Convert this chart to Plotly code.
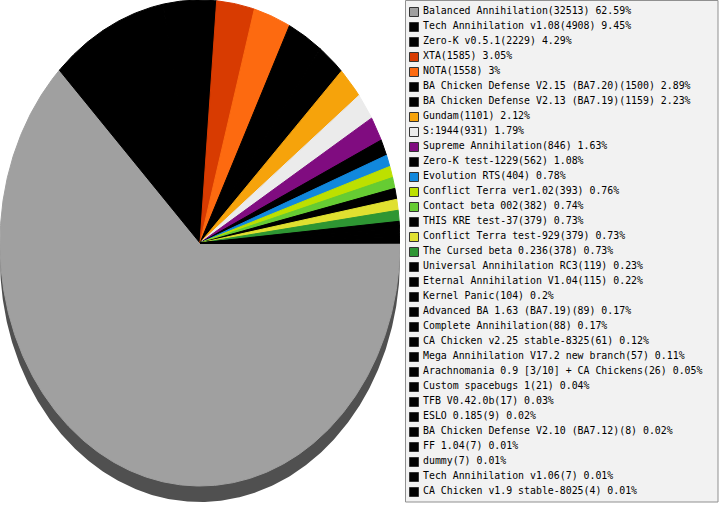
import numpy as np
import plotly.graph_objects as go

# mod names, game counts and slice colours, in legend order
MODS = [
    "Balanced Annihilation", "Tech Annihilation v1.08", "Zero-K v0.5.1", "XTA", "NOTA",
    "BA Chicken Defense V2.15 (BA7.20)", "BA Chicken Defense V2.13 (BA7.19)", "Gundam",
    "S:1944", "Supreme Annihilation", "Zero-K test-1229", "Evolution RTS",
    "Conflict Terra ver1.02", "Contact beta 002", "THIS KRE test-37", "Conflict Terra test-929",
    "The Cursed beta 0.236", "Universal Annihilation RC3", "Eternal Annihilation V1.04",
    "Kernel Panic", "Advanced BA 1.63 (BA7.19)", "Complete Annihilation",
    "CA Chicken v2.25 stable-8325", "Mega Annihilation V17.2 new branch",
    "Arachnomania 0.9 [3/10] + CA Chickens", "Custom spacebugs 1", "TFB V0.42.0b",
    "ESLO 0.185", "BA Chicken Defense V2.10 (BA7.12)", "FF 1.04", "dummy",
    "Tech Annihilation v1.06", "CA Chicken v1.9 stable-8025",
]
GAMES = [
    32513, 4908, 2229, 1585, 1558, 1500, 1159, 1101, 931, 846, 562, 404, 393, 382, 379,
    379, 378, 119, 115, 104, 89, 88, 61, 57, 26, 21, 17, 9, 8, 7, 7, 7, 4,
]
COLORS = [
    "#a0a0a0", "#000000", "#000000", "#d83b01", "#fd6a10", "#000000", "#000000", "#f6a30b",
    "#ebebeb", "#800c80", "#000000", "#1188dd", "#bde000", "#66cc33", "#000000", "#e0e030",
    "#2e9633",
] + ["#000000"] * 16

SHADOW = "#505050"
FONT = "DejaVu Sans Mono"

W, H = 719, 505
PIE_W = 400          # pie spans x 0..400 px
PIE_R_PX = 243       # vertical radius in px (pie is a bit taller than wide)
SHADOW_DY = 16 / PIE_R_PX
ROW = 15             # legend row pitch, px


def wedge(a0, a1, dy=0.0):
    # clockwise from 3 o'clock, fractions of the full turn
    t = -2 * np.pi * np.linspace(a0, a1, max(int((a1 - a0) * 720), 2))
    xs = np.concatenate([[0], np.cos(t), [0]])
    ys = np.concatenate([[0], np.sin(t), [0]]) - dy
    return xs, ys


total = sum(GAMES)
fracs = np.array(GAMES) / total
cum = np.concatenate([[0], np.cumsum(fracs)])

fig = go.Figure()

# drop shadow under the pie
sx, sy = wedge(0, 1, SHADOW_DY)
fig.add_trace(go.Scatter(
    x=sx, y=sy, mode="lines", fill="toself", fillcolor=SHADOW,
    line=dict(width=0, color=SHADOW), hoverinfo="skip", showlegend=False,
))

for i, (name, c) in enumerate(zip(MODS, COLORS)):
    xs, ys = wedge(cum[i], cum[i + 1])
    fig.add_trace(go.Scatter(
        x=xs, y=ys, mode="lines", fill="toself", fillcolor=c,
        line=dict(width=1, color=c), name=name,
        hoverinfo="text", text=f"{name}({GAMES[i]})", showlegend=False,
    ))

# hand-made legend on its own axes so rows can sit 15px apart
labels = [f"{m}({g}) {round(100 * g / total, 2):g}%" for m, g in zip(MODS, GAMES)]
idx = list(range(len(MODS)))
fig.add_trace(go.Scatter(
    x=[0] * len(idx), y=idx, mode="markers", xaxis="x2", yaxis="y2",
    marker=dict(symbol="square", size=9, color=COLORS, line=dict(color="#333333", width=1)),
    hoverinfo="skip", showlegend=False,
))
fig.add_trace(go.Scatter(
    x=[9] * len(idx), y=idx, mode="text", xaxis="x2", yaxis="y2",
    text=labels, textposition="middle right",
    textfont=dict(family=FONT, size=9.9, color="#000000"),
    hoverinfo="skip", showlegend=False,
))

legend_x0 = 405
fig.update_layout(
    width=W, height=H,
    margin=dict(l=0, r=0, t=0, b=0),
    paper_bgcolor="white",
    plot_bgcolor="rgba(0,0,0,0)",
    xaxis=dict(domain=[0, PIE_W / W], range=[-1, 1], visible=False, fixedrange=True),
    yaxis=dict(domain=[0, 1], range=[1 - H / PIE_R_PX, 1], visible=False, fixedrange=True),
    # legend axes: 1 unit = 1px horizontally, 1 row = ROW px vertically
    xaxis2=dict(domain=[legend_x0 / W, 1], range=[-9, W - legend_x0 - 9],
                visible=False, fixedrange=True, anchor="y2"),
    yaxis2=dict(domain=[0, 1], range=[(H - 12) / ROW, -12 / ROW],
                visible=False, fixedrange=True, anchor="x2"),
    shapes=[dict(
        type="rect", xref="paper", yref="paper", layer="below",
        x0=(legend_x0 + 0.5) / W, x1=(W - 1) / W, y0=1 - 502 / H, y1=1 - 0.5 / H,
        fillcolor="#f2f2f2", line=dict(color="#909090", width=1),
    )],
    showlegend=False,
)

# page body has an 8px default margin; drop it so the chart sits flush
fig.write_html("out.html", config={"displayModeBar": False},
               post_script="document.body.style.margin='0';")
